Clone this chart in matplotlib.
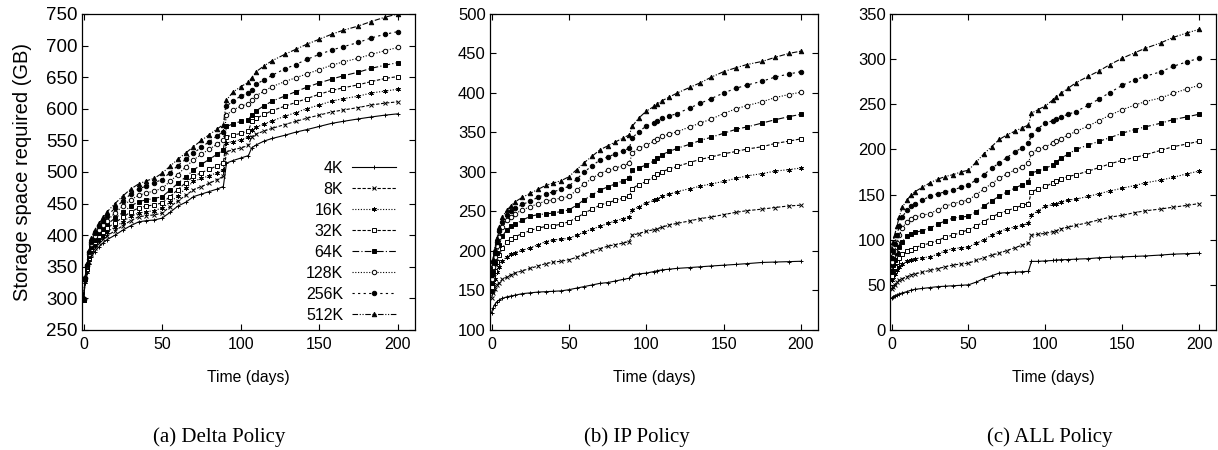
import numpy as np
import matplotlib.pyplot as plt

plt.rcParams['font.family'] = ['Liberation Sans', 'DejaVu Sans']

days = [0, 1, 2, 3.5, 5, 7, 10, 12.5, 15, 20, 25, 30, 35, 40, 45, 50, 55, 60, 65, 70, 75,
        80, 85, 89, 91, 95, 100, 105, 107, 110, 115, 120, 128, 135, 142, 150, 158, 165, 175,
        183, 192, 200]
labels = ['4K', '8K', '16K', '32K', '64K', '128K', '256K', '512K']

# Delta policy
delta = {
    '4K':   [297, 325, 340, 355, 365, 374, 382, 388, 393, 400, 408, 415, 421, 423, 424, 427, 436, 446, 452, 461, 465,
             469, 473, 477, 514, 518, 522, 526, 538, 543, 549, 553, 558, 563, 567, 572, 577, 580, 584, 587, 590, 592],
    '8K':   [297, 327, 343, 358, 370, 379, 388, 394, 399, 407, 415, 423, 429, 431, 432, 435, 445, 454, 463, 472, 477,
             482, 488, 493, 532, 535, 538, 542, 556, 560, 565, 569, 575, 580, 585, 590, 595, 598, 602, 606, 609, 611],
    '16K':  [298, 329, 345, 361, 374, 384, 393, 399, 405, 413, 421, 430, 435, 437, 439, 443, 452, 462, 474, 485, 490,
             494, 499, 503, 546, 548, 551, 555, 567, 571, 576, 581, 588, 594, 600, 606, 612, 616, 620, 625, 628, 631],
    '32K':  [298, 330, 347, 364, 378, 389, 398, 405, 411, 420, 428, 437, 443, 446, 448, 451, 461, 472, 483, 493, 499,
             504, 510, 514, 556, 558, 561, 565, 580, 585, 591, 597, 604, 610, 616, 623, 629, 633, 638, 643, 648, 651],
    '64K':  [298, 331, 349, 367, 382, 393, 403, 410, 417, 427, 436, 446, 453, 456, 458, 461, 471, 482, 492, 503, 512,
             520, 528, 535, 572, 576, 580, 583, 590, 597, 605, 612, 620, 627, 634, 641, 647, 652, 658, 664, 669, 673],
    '128K': [299, 332, 351, 370, 386, 398, 409, 416, 423, 435, 446, 456, 463, 467, 470, 474, 485, 496, 508, 519, 528,
             536, 544, 551, 590, 598, 604, 608, 614, 621, 628, 635, 643, 649, 655, 662, 669, 674, 680, 686, 692, 697],
    '256K': [299, 333, 353, 373, 390, 403, 414, 422, 430, 443, 454, 465, 473, 478, 483, 488, 499, 510, 520, 530, 539,
             548, 557, 564, 604, 612, 620, 625, 630, 639, 646, 653, 663, 670, 678, 686, 693, 698, 705, 712, 718, 722],
    '512K': [300, 334, 355, 376, 395, 408, 419, 428, 437, 450, 462, 473, 481, 486, 490, 498, 509, 520, 530, 540, 550,
             559, 568, 575, 614, 626, 635, 642, 649, 659, 668, 676, 686, 694, 702, 710, 718, 724, 731, 738, 745, 750],
}

# IP policy
ip = {
    '4K':   [122, 128, 132, 136, 138, 140, 142, 143, 144, 146, 147, 148, 148.5, 149, 149.5, 151, 153, 155, 157, 159, 160,
             162, 164, 165.5, 170, 171, 172, 174, 175, 176, 177, 178, 179, 180, 181, 182, 183, 184, 185.5, 186, 186.5, 187],
    '8K':   [140, 147, 152, 157, 160, 164, 167, 170, 172, 175, 178, 181, 184, 186, 187, 189, 192, 196, 200, 203, 206,
             208, 210, 212, 220, 222, 225, 227, 228, 230, 233, 235, 238, 241, 243, 246, 249, 251, 253, 255, 257, 258],
    '16K':  [148, 158, 165, 173, 180, 187, 193, 196, 198, 201, 204, 208, 212, 214, 215, 216, 220, 224, 228, 231, 235,
             238, 241, 243, 252, 256, 261, 264, 266, 269, 272, 275, 279, 282, 285, 288, 292, 295, 298, 301, 303, 305],
    '32K':  [155, 167, 175, 186, 195, 204, 212, 215, 218, 222, 226, 229, 231, 232, 234, 237, 242, 248, 253, 258, 261,
             264, 267, 269, 279, 284, 288, 294, 297, 300, 304, 307, 312, 316, 319, 323, 326, 329, 332, 336, 339, 342],
    '64K':  [160, 174, 185, 197, 208, 219, 227, 231, 234, 239, 244, 246, 247, 248, 250, 252, 258, 265, 271, 277, 281,
             285, 289, 292, 303, 305, 309, 314, 318, 322, 326, 330, 335, 340, 344, 349, 354, 357, 362, 366, 370, 373],
    '128K': [165, 180, 192, 206, 218, 230, 239, 243, 247, 252, 256, 260, 263, 265, 267, 269, 277, 285, 292, 298, 302,
             305, 308, 311, 324, 330, 334, 339, 342, 345, 348, 351, 357, 362, 367, 374, 380, 384, 389, 394, 398, 401],
    '256K': [170, 186, 198, 212, 225, 237, 246, 250, 254, 259, 263, 268, 272, 275, 278, 282, 291, 300, 308, 315, 319,
             323, 327, 330, 343, 351, 358, 362, 365, 368, 371, 374, 381, 387, 393, 400, 406, 410, 415, 420, 424, 427],
    '512K': [175, 190, 203, 217, 230, 243, 252, 257, 262, 268, 273, 278, 283, 286, 289, 294, 303, 312, 320, 328, 333,
             338, 343, 347, 358, 368, 377, 383, 386, 390, 395, 400, 407, 413, 420, 427, 432, 436, 440, 445, 450, 453],
}

# ALL policy
allp = {
    '4K':   [35, 37, 38, 39, 40, 41, 42.5, 44, 45, 46, 47, 48, 48.5, 49, 49.5, 50, 53, 57, 60, 63, 63.5,
             64, 64.5, 65, 76, 76, 76.5, 77, 77.5, 77.8, 78, 78.5, 79, 80, 80.5, 81, 81.5, 82, 83, 84, 84.5, 85],
    '8K':   [45, 48, 50, 53, 55, 57, 59, 61, 62, 64, 66, 68, 70, 72, 73, 74, 77, 80, 83, 85, 88,
             91, 94, 96, 105, 106, 107, 109, 110, 112, 114, 116, 119, 122, 125, 127, 130, 132, 134, 136, 138, 140],
    '16K':  [55, 59, 62, 66, 70, 73, 76, 78, 79, 80, 81, 84, 88, 90, 91, 92, 96, 100, 105, 109, 112,
             114, 116, 118, 127, 132, 137, 139, 140, 142, 144, 145, 148, 151, 154, 157, 160, 163, 166, 169, 173, 176],
    '32K':  [60, 65, 70, 75, 80, 84, 87, 89, 91, 94, 96, 99, 103, 105, 108, 111, 115, 120, 125, 129, 132,
             135, 138, 140, 153, 156, 159, 163, 165, 167, 170, 172, 176, 180, 184, 188, 191, 194, 199, 203, 206, 209],
    '64K':  [65, 72, 78, 85, 92, 98, 104, 106, 108, 110, 113, 117, 121, 124, 125, 126, 131, 137, 143, 148, 153,
             157, 161, 164, 174, 176, 179, 183, 186, 190, 195, 200, 205, 209, 213, 218, 222, 225, 229, 233, 236, 239],
    '128K': [75, 82, 88, 96, 105, 113, 120, 123, 125, 127, 129, 133, 137, 140, 142, 144, 150, 156, 162, 168, 173,
             177, 181, 185, 196, 200, 203, 207, 209, 212, 216, 220, 226, 232, 238, 244, 249, 253, 257, 262, 267, 271],
    '256K': [80, 88, 95, 105, 115, 125, 133, 137, 140, 144, 148, 151, 153, 155, 158, 161, 166, 172, 179, 185, 191,
             197, 202, 207, 216, 223, 229, 232, 234, 236, 239, 242, 249, 256, 263, 271, 277, 281, 286, 292, 297, 301],
    '512K': [90, 98, 105, 115, 125, 136, 144, 149, 153, 158, 163, 167, 170, 172, 175, 177, 186, 195, 203, 211, 216,
             220, 224, 227, 240, 244, 248, 255, 258, 262, 268, 274, 281, 287, 294, 301, 307, 312, 318, 324, 329, 333],
}

# gnuplot-ish line/point styles
styles = {
    '4K':   dict(ls='-', marker='+', mfc='k'),
    '8K':   dict(ls=(0, (3, 1.5)), marker='x', mfc='k'),
    '16K':  dict(ls=(0, (1, 1.5)), marker=(6, 2, 0), mfc='k'),
    '32K':  dict(ls=(0, (3, 1.5)), marker='s', mfc='white'),
    '64K':  dict(ls=(0, (6, 2, 1, 2)), marker='s', mfc='k'),
    '128K': dict(ls=(0, (1, 1.5)), marker='o', mfc='white'),
    '256K': dict(ls=(0, (2, 3)), marker='o', mfc='k'),
    '512K': dict(ls=(0, (5, 1.5, 1, 1.5, 1, 1.5)), marker='^', mfc='k'),
}

fig = plt.figure(figsize=(12.18, 4.5), dpi=100)
panels = [
    (delta, [0.0673, 0.2667, 0.2734, 0.7022], (250, 750), '(a) Delta Policy', 0.180),
    (ip,    [0.4023, 0.2667, 0.2693, 0.7022], (100, 500), '(b) IP Policy', 0.523),
    (allp,  [0.7307, 0.2667, 0.2677, 0.7022], (0, 350),   '(c) ALL Policy', 0.862),
]

for i, (data, pos, ylim, caption, cx) in enumerate(panels):
    ax = fig.add_axes(pos)
    for lab in labels:
        st = styles[lab]
        ax.plot(days, data[lab], color='k', lw=0.8, ls=st['ls'], marker=st['marker'],
                ms=3.2, mew=0.7, mfc=st['mfc'], mec='k', label=lab)
    ax.set_xlim(-1, 211)
    ax.set_ylim(*ylim)
    ax.set_xticks([0, 50, 100, 150, 200])
    ax.set_yticks(np.arange(ylim[0], ylim[1] + 1, 50))
    ax.tick_params(direction='in', top=True, right=True, length=4, width=0.8, pad=3)
    ax.tick_params(axis='x', labelsize=11.5, pad=5)
    ax.tick_params(axis='y', labelsize=13.5 if i == 0 else 12)
    for sp in ax.spines.values():
        sp.set_linewidth(0.9)
    ax.set_xlabel('Time (days)', fontsize=11.3, labelpad=13)
    if i == 0:
        ax.set_ylabel('Storage space required (GB)', fontsize=14.5, labelpad=10)
        ax.legend(loc='lower right', bbox_to_anchor=(0.943, 0.022), frameon=False, markerfirst=False,
                  fontsize=11.5, handlelength=2.75, labelspacing=0.38, handletextpad=0.56,
                  borderaxespad=0, borderpad=0)
    fig.text(cx, 0.029, caption, ha='center', va='center', fontsize=15,
             family=['Liberation Serif', 'DejaVu Serif'])

fig.savefig('out.png', dpi=100)
